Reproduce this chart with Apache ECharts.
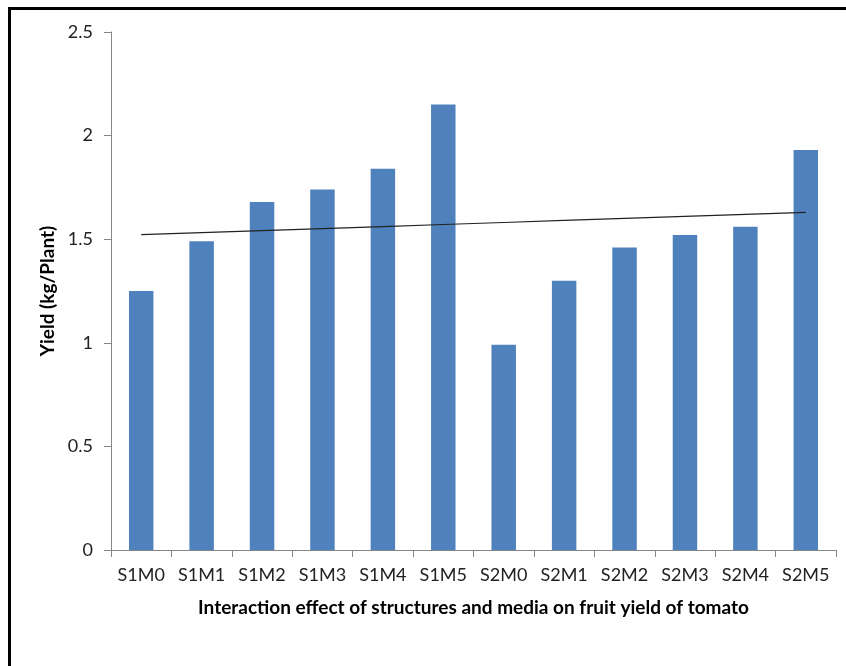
<!DOCTYPE html>
<html>
<head>
<meta charset="utf-8">
<script src="https://cdn.jsdelivr.net/npm/echarts@6/dist/echarts.min.js"></script>
<style>
  html, body { margin: 0; padding: 0; background: #fff; }
  #chart { width: 846px; height: 666px; }
</style>
</head>
<body>
<div id="chart"></div>
<script>
const categories = ['S1M0','S1M1','S1M2','S1M3','S1M4','S1M5','S2M0','S2M1','S2M2','S2M3','S2M4','S2M5'];
const yieldValues = [1.25, 1.49, 1.68, 1.74, 1.84, 2.15, 0.99, 1.30, 1.46, 1.52, 1.56, 1.93];
const yTicks = [0, 0.5, 1, 1.5, 2, 2.5];

// Linear trendline (least squares) of the yield values, as in the original chart
function linearTrend(vals) {
  const n = vals.length;
  let sx = 0, sy = 0, sxy = 0, sxx = 0;
  vals.forEach((v, i) => { const x = i + 1; sx += x; sy += v; sxy += x * v; sxx += x * x; });
  const b = (n * sxy - sx * sy) / (n * sxx - sx * sx);
  const a = (sy - b * sx) / n;
  return vals.map((v, i) => +(a + b * (i + 1)).toFixed(4));
}
const trendValues = linearTrend(yieldValues);

const chart = echarts.init(document.getElementById('chart'));
const FONT = 'Lato';
chart.setOption({
  animation: false,
  backgroundColor: '#ffffff',
  graphic: [{
    type: 'rect',
    shape: { x: 9.5, y: 8.5, width: 900, height: 800 },
    style: { fill: 'none', stroke: '#000', lineWidth: 3 },
    silent: true,
    z: 100
  }],
  grid: { left: 111, right: 10, top: 32, bottom: 116, containLabel: false },
  xAxis: {
    type: 'category',
    data: categories,
    name: 'Interaction effect of structures and media on fruit yield of tomato',
    nameLocation: 'middle',
    nameGap: 48,
    nameTextStyle: { fontFamily: FONT, fontWeight: 'bold', fontSize: 19, color: '#000' },
    axisLine: { show: true, lineStyle: { color: '#868686', width: 1 } },
    axisTick: { show: true, alignWithLabel: false, length: 7, lineStyle: { color: '#868686' } },
    axisLabel: { fontFamily: FONT, fontSize: 18, color: '#222', margin: 16, interval: 0 },
    splitLine: { show: false }
  },
  yAxis: {
    type: 'value',
    min: yTicks[0],
    max: yTicks[yTicks.length - 1],
    interval: 0.5,
    name: 'Yield (kg/Plant)',
    nameLocation: 'middle',
    nameRotate: 90,
    nameGap: 52,
    nameTextStyle: { fontFamily: FONT, fontWeight: 'bold', fontSize: 19, color: '#000' },
    axisLine: { show: true, lineStyle: { color: '#868686', width: 1 } },
    axisTick: { show: true, length: 7, lineStyle: { color: '#868686' } },
    axisLabel: { fontFamily: FONT, fontSize: 18, color: '#222', margin: 18 },
    splitLine: { show: false }
  },
  series: [{
    type: 'bar',
    data: yieldValues,
    barWidth: '40.5%',
    itemStyle: { color: '#4F81BD' }
  }, {
    type: 'line',
    data: trendValues,
    symbol: 'none',
    lineStyle: { color: '#222', width: 1.2 },
    z: 5
  }]
});
</script>
</body>
</html>
